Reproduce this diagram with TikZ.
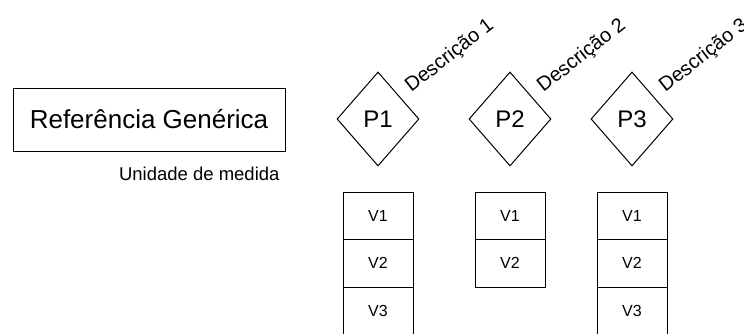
\documentclass[tikz,border=0pt]{standalone}
\usepackage{fontspec}
\setmainfont{Liberation Sans}
\usetikzlibrary{positioning,shapes.geometric}

\begin{document}
\begin{tikzpicture}[
		x=1pt, y=-1pt,
		line width=1pt,
		refbox/.style={
			draw,
			minimum width=272pt,
			minimum height=63pt,
			font=\fontsize{26}{30}\selectfont
		},
		unit/.style={
			inner sep=0,
			font=\fontsize{18.5}{22}\selectfont
		},
		param/.style={
			draw,
			diamond,
			inner sep=0,
			minimum width=82pt,
			minimum height=94pt,
			font=\fontsize{24}{28}\selectfont
		},
		desc/.style={
			rotate=38,
			anchor=south west,
			inner sep=1pt,
			font=\fontsize{20}{24}\selectfont
		},
		cell/.style={
			draw,
			outer sep=0,
			inner sep=0,
			minimum width=70pt,
			minimum height=47.5pt,
			font=\fontsize{16}{19}\selectfont
		}
	]

	\useasboundingbox (0,0) rectangle (744,333);

	\node [refbox] (ref) at (149,119.5) {Referência Genérica};
	\node [unit, anchor=base east] (unit) at (280,180.5) {Unidade de medida};

	% parameters with their value columns
	\foreach \n/\x/\k in {1/378/3, 2/510/2, 3/632/3}{
		\node [param] (P\n) at (\x,119) {P\n};
		\node [desc] (D\n) at ([xshift=15pt,yshift=-3pt]P\n.north east) {Descrição \n};
		\foreach \r in {1,...,\k}
			\node [cell] (C\n-\r) at (\x,{168.25+47.5*\r}) {V\r};
	}

\end{tikzpicture}
\end{document}
